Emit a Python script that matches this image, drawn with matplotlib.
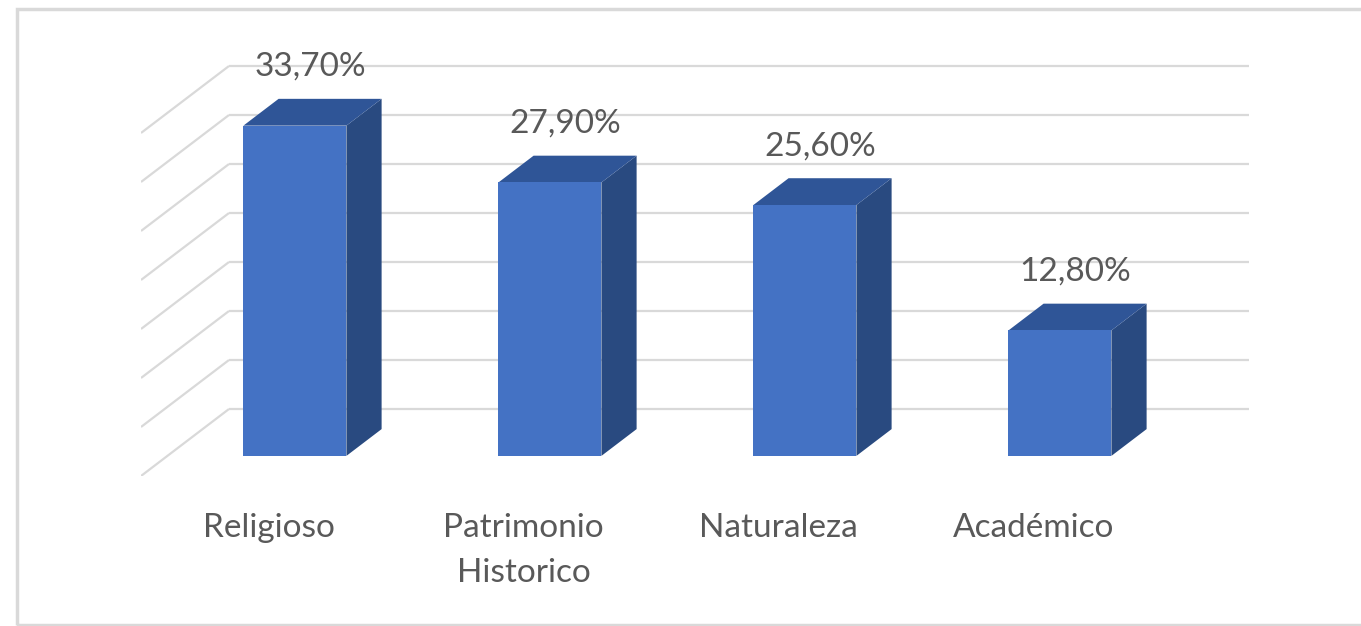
import matplotlib
matplotlib.use("Agg")
import matplotlib.pyplot as plt
from matplotlib.patches import Polygon, Rectangle

categories = ["Religioso", "Patrimonio\nHistorico", "Naturaleza", "Académico"]
values = [33.70, 27.90, 25.60, 12.80]
labels = ["33,70%", "27,90%", "25,60%", "12,80%"]
ticks = [0, 5, 10, 15, 20, 25, 30, 35]

W, H, DPI = 1361, 626, 100
fig = plt.figure(figsize=(W / DPI, H / DPI), dpi=DPI)
fig.patch.set_facecolor("white")

# outer chart border
fig.patches.append(Rectangle((17 / W, 1 / H), 1.2, (616 / H), transform=fig.transFigure,
                             fill=False, edgecolor="#D9D9D9", linewidth=2.5))

# axes geometry (front floor edge)
x0_px, x1_px, y0_px, ytop_px = 141, 1249, 476, 20
px_per_cat = 255
px_per_unit = 49 / 5
ax = fig.add_axes([x0_px / W, (H - y0_px) / H, (x1_px - x0_px) / W, (y0_px - ytop_px) / H])
ax.set_xlim(-0.5, -0.5 + (x1_px - x0_px) / px_per_cat)
ax.set_ylim(0, (y0_px - ytop_px) / px_per_unit)
ax.axis("off")

# depth vector in data units (full depth)
DX = 88 / px_per_cat
DY = 67 / px_per_unit

def P(x, v, z):
    return (x + z * DX, v + z * DY)

grid_col = "#D9D9D9"
xmax = ax.get_xlim()[1]
for t in ticks:
    a = P(-0.5, t, 0)
    b = P(-0.5, t, 1)
    ax.plot([a[0], b[0]], [a[1], b[1]], color=grid_col, lw=1.6, zorder=1, solid_capstyle="butt")
    ax.plot([b[0], xmax], [b[1], b[1]], color=grid_col, lw=1.6, zorder=1, solid_capstyle="butt")

front_c = "#4472C4"
top_c = "#2F5597"
side_c = "#294A80"
bw = 0.404
z0, z1 = 0.3, 0.7
font = ["Lato", "DejaVu Sans"]
for i, (v, lab) in enumerate(zip(values, labels)):
    xl, xr = i - bw / 2, i + bw / 2
    front = [P(xl, 0, z0), P(xr, 0, z0), P(xr, v, z0), P(xl, v, z0)]
    side = [P(xr, 0, z0), P(xr, 0, z1), P(xr, v, z1), P(xr, v, z0)]
    top = [P(xl, v, z0), P(xr, v, z0), P(xr, v, z1), P(xl, v, z1)]
    ax.add_patch(Polygon(side, closed=True, facecolor=side_c, edgecolor="none", zorder=3))
    ax.add_patch(Polygon(top, closed=True, facecolor=top_c, edgecolor="none", zorder=3))
    ax.add_patch(Polygon(front, closed=True, facecolor=front_c, edgecolor="none", zorder=4))
    cx, cy = P(i, v, 0.5)
    ax.text(cx - 0.01, cy + 3.1, lab, ha="center", va="bottom", fontsize=24, color="#595959",
            family=font, zorder=5)
    lx, ly = P(i, 0, 0)
    ax.text(lx, -3.8, categories[i], ha="center", va="top", fontsize=24, color="#595959",
            family=font, linespacing=1.62, clip_on=False)

fig.savefig("out.png", dpi=DPI, facecolor="white")
